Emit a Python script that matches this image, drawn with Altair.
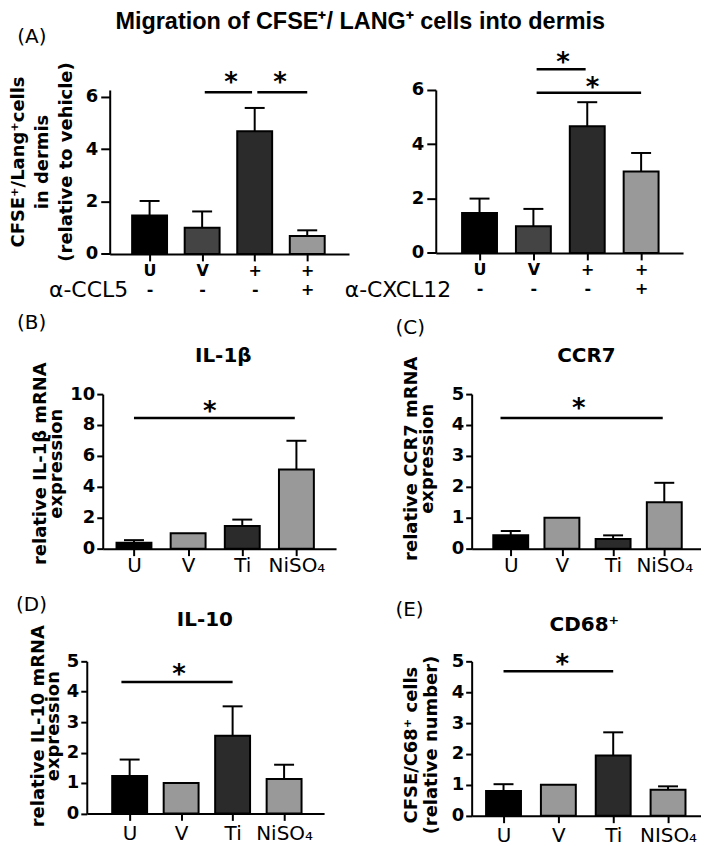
import json
import altair as alt
import pandas as pd

FONT = "DejaVu Sans"
TITLE_FONT = "Liberation Sans"

# ---------------- data ----------------
A_TICKS = [["U", "-"], ["V", "-"], ["+", "-"], ["+", "+"]]
MRNA_TICKS = ["U", "V", "Ti", "NiSO₄"]
CD68_TICKS = ["U", "V", "Ti", "NISO₄"]

A1_MEAN = [1.47, 1.00, 4.68, 0.68]
A1_ERR = [2.02, 1.62, 5.57, 0.90]
A2_MEAN = [1.47, 0.98, 4.66, 3.00]
A2_ERR = [2.00, 1.62, 5.55, 3.68]
B_MEAN = [0.38, 1.00, 1.47, 5.12]
B_ERR = [0.55, None, 1.88, 6.98]
C_MEAN = [0.43, 1.00, 0.31, 1.50]
C_ERR = [0.57, None, 0.43, 2.13]
D_MEAN = [1.23, 1.00, 2.55, 1.13]
D_ERR = [1.77, None, 3.52, 1.60]
E_MEAN = [0.80, 1.00, 1.95, 0.84]
E_ERR = [1.02, None, 2.70, 0.95]

# significance brackets (group positions / heights) and star positions
A1_SIG_FROM, A1_SIG_TO, A1_SIG_Y = [1.05, 2.05], [1.95, 3.0], [6.17, 6.17]
A1_STAR_X, A1_STAR_Y = [1.55, 2.48], [6.8, 6.8]
A2_SIG_FROM, A2_SIG_TO, A2_SIG_Y = [1.06, 1.06], [1.97, 3.0], [6.76, 5.9]
A2_STAR_X, A2_STAR_Y = [1.55, 2.1], [7.25, 6.33]
B_SIG_FROM, B_SIG_TO, B_SIG_Y = [0.0], [2.97], [8.45]
B_STAR_X, B_STAR_Y = [1.4], [9.27]
C_SIG_FROM, C_SIG_TO, C_SIG_Y = [-0.2], [2.97], [4.23]
C_STAR_X, C_STAR_Y = [1.33], [4.73]
D_SIG_FROM, D_SIG_TO, D_SIG_Y = [-0.16], [2.0], [4.32]
D_STAR_X, D_STAR_Y = [0.96], [4.79]
E_SIG_FROM, E_SIG_TO, E_SIG_Y = [0.0], [2.0], [4.68]
E_STAR_X, E_STAR_Y = [1.07], [5.11]

# texts: figure title, panel letters, panel titles
MAIN_TITLE = "Migration of CFSE⁺/ LANG⁺ cells into dermis"
PANEL_LETTERS = ["(A)", "(B)", "(C)", "(D)", "(E)"]
PANEL_TITLES = ["IL-1β", "CCR7", "IL-10", "CD68⁺"]

# ---------------- styles / annotation placement (in each panel's data units) ----------------
FILL_A = ["#000000", "#444444", "#2b2b2b", "#999999"]
FILL_M = ["#000000", "#999999", "#2b2b2b", "#999999"]
MAIN_TITLE_AT = (4.009, 8.589)
LETTER_AT = [(-2.518, 8.056), (-2.16, 14.24), (-2.252, 6.958), (-2.207, 6.656), (-1.97, 6.47)]
PTITLE_AT = [(1.649, 12.05), (1.479, 6.045), (1.462, 6.154), (1.473, 5.975)]


def y_axis(vals, title=None, tx=0, ty=0, lh=18, tick=8, pad=3):
    kw = dict(values=vals, format="d", tickSize=tick, tickWidth=2, tickColor="black",
              domainColor="black", domainWidth=2, labelFont=FONT, labelFontSize=18,
              labelFontWeight="bold", labelColor="black", labelPadding=pad,
              labelFlush=False, grid=False, title=title)
    if title is not None:
        kw.update(titleFont=FONT, titleFontSize=18, titleFontWeight="bold", titleColor="black",
                  titleX=tx, titleY=ty, titleLineHeight=lh, titleAlign="center",
                  titleBaseline="bottom", titleAngle=270)
    return alt.Axis(**kw)


def x_axis(ticks, size, weight, pad, lh=None, title=None, tx=0, ty=0):
    expr = json.dumps(ticks, ensure_ascii=False) + "[datum.value]"
    kw = dict(values=list(range(len(ticks))), labelExpr=expr, tickSize=7, tickWidth=2,
              tickColor="black", domainColor="black", domainWidth=2, labelFont=FONT,
              labelFontSize=size, labelFontWeight=weight, labelColor="black",
              labelPadding=pad, labelFlush=False, labelOverlap=False, labelAngle=0,
              grid=False, title=title)
    if lh:
        kw["labelLineHeight"] = lh
    if title is not None:
        kw.update(titleX=tx, titleY=ty, titleAlign="right", titleBaseline="middle",
                  titleFont=FONT, titleFontSize=22, titleFontWeight="normal", titleColor="black")
    return alt.Axis(**kw)


def panel(mean, err, fills, sig_from, sig_to, sig_y, star_x, star_y,
          x_dom, y_dom, w, h, xaxis, yaxis, texts):
    idx = list(range(len(mean)))
    bar_df = pd.DataFrame({"pos": idx, "val": mean, "fillc": fills})
    e_idx = [i for i in idx if err[i] is not None]
    err_df = pd.DataFrame({"pos": e_idx, "val": [mean[i] for i in e_idx],
                           "err": [err[i] for i in e_idx]})
    sig_df = pd.DataFrame({"pos": sig_from, "x2": sig_to, "val": sig_y})
    star_df = pd.DataFrame({"pos": star_x, "val": star_y})
    xs = alt.Scale(domain=x_dom, nice=False, zero=False)
    ys = alt.Scale(domain=y_dom, nice=False)

    def X(f="pos:Q"):
        return alt.X(f, scale=xs, axis=xaxis)

    def Y(f="val:Q"):
        return alt.Y(f, scale=ys, axis=yaxis)

    layers = [
        alt.Chart(bar_df).mark_bar(orient="vertical", size=35, stroke="black",
                                   strokeWidth=2).encode(
            x=X(), y=Y(), fill=alt.Fill("fillc:N", scale=None)),
        alt.Chart(err_df).mark_rule(color="black", strokeWidth=2).encode(
            x=X(), y=Y(), y2="err:Q"),
        alt.Chart(err_df).mark_tick(orient="horizontal", size=20, thickness=2,
                                    color="black", opacity=1).encode(x=X(), y=Y("err:Q")),
        alt.Chart(sig_df).mark_rule(color="black", strokeWidth=2.5).encode(
            x=X(), x2="x2:Q", y=Y()),
        alt.Chart(star_df).mark_text(text="*", font=FONT, fontSize=26, fontWeight="bold",
                                     baseline="alphabetic", dy=15, color="black").encode(
            x=X(), y=Y()),
    ]
    for (txt, pos, font, size, weight, align) in texts:
        tdf = pd.DataFrame({"pos": [pos[0]], "val": [pos[1]], "t": [txt]})
        layers.append(
            alt.Chart(tdf).mark_text(font=font, fontSize=size, fontWeight=weight, align=align,
                                     baseline="alphabetic", color="black").encode(
                x=X(), y=Y(), text="t:N"))
    return alt.layer(*layers).properties(width=w, height=h)


def letter(i):
    return (PANEL_LETTERS[i], LETTER_AT[i], FONT, 20, "normal", "left")


def ptitle(i):
    return (PANEL_TITLES[i], PTITLE_AT[i], FONT, 20, "bold", "center")


SP_DF = pd.DataFrame({"v": [0]})


def spacer(w, h):
    return alt.Chart(SP_DF).mark_point(opacity=0, size=1).encode(
        x=alt.X("v:Q", axis=None), y=alt.Y("v:Q", axis=None)).properties(width=w, height=h)


A1 = panel(A1_MEAN, A1_ERR, FILL_A, A1_SIG_FROM, A1_SIG_TO, A1_SIG_Y, A1_STAR_X, A1_STAR_Y,
           [-0.664, 3.70], [0, 6.256], 240, 164.4,
           x_axis(A_TICKS, 16, "bold", 2, lh=19, title="α-CCL5", tx=18, ty=36),
           y_axis([0, 2, 4, 6], ["CFSE⁺/Lang⁺cells", "in dermis", "(relative to vehicle)"],
                  tx=-82, ty=71.7, lh=24, tick=9, pad=3),
           [(MAIN_TITLE, MAIN_TITLE_AT, TITLE_FONT, 23.5, "bold", "center"), letter(0)])
A2 = panel(A2_MEAN, A2_ERR, FILL_A, A2_SIG_FROM, A2_SIG_TO, A2_SIG_Y, A2_STAR_X, A2_STAR_Y,
           [-0.72, 3.686], [0, 6], 248, 163.4,
           x_axis(A_TICKS, 16, "bold", 2, lh=19, title="α-CXCL12", tx=15, ty=37),
           y_axis([0, 2, 4, 6], None, tick=9, pad=3), [])
B = panel(B_MEAN, B_ERR, FILL_M, B_SIG_FROM, B_SIG_TO, B_SIG_Y, B_STAR_X, B_STAR_Y,
          [-0.485, 3.64], [0, 10], 234, 155,
          x_axis(MRNA_TICKS, 20, "normal", 0),
          y_axis([0, 2, 4, 6, 8, 10], ["relative IL-1β mRNA", "expression"],
                 tx=-53, ty=69.3, lh=16, tick=6, pad=2),
          [letter(1), ptitle(0)])
C = panel(C_MEAN, C_ERR, FILL_M, C_SIG_FROM, C_SIG_TO, C_SIG_Y, C_STAR_X, C_STAR_Y,
          [-0.666, 3.62], [0, 5], 230, 155,
          x_axis(MRNA_TICKS, 20, "normal", 0),
          y_axis([0, 1, 2, 3, 4, 5], ["relative CCR7 mRNA", "expression"],
                 tx=-51, ty=64.3, lh=16, tick=6, pad=2),
          [letter(2), ptitle(1)])
D = panel(D_MEAN, D_ERR, FILL_M, D_SIG_FROM, D_SIG_TO, D_SIG_Y, D_STAR_X, D_STAR_Y,
          [-0.736, 3.68], [0, 5], 238, 152.5,
          x_axis(MRNA_TICKS, 20, "normal", 3),
          y_axis([0, 1, 2, 3, 4, 5], ["relative IL-10 mRNA", "expression"],
                 tx=-39, ty=64.5, lh=15, tick=6, pad=2),
          [letter(3), ptitle(2)])
E = panel(E_MEAN, E_ERR, FILL_M, E_SIG_FROM, E_SIG_TO, E_SIG_Y, E_STAR_X, E_STAR_Y,
          [-0.49, 3.51], [0, 5], 230, 154.8,
          x_axis(CD68_TICKS, 20, "normal", 3),
          y_axis([0, 1, 2, 3, 4, 5], ["CFSE/C68⁺ cells", "(relative number)"],
                 tx=-51, ty=83.5, lh=20, tick=6, pad=2),
          [letter(4), ptitle(3)])

row_a = alt.hconcat(spacer(102, 222.7), A1, spacer(87, 1), A2, spacing=0, bounds="flush")
row_b = alt.hconcat(spacer(95, 200.3), B, spacer(136, 1), C, spacing=0, bounds="flush")
row_d = alt.hconcat(spacer(79, 1), D, spacer(148, 1), E, spacing=0, bounds="flush")

chart = alt.vconcat(row_a, row_b, row_d, spacing=0).properties(
    padding=0, background="white"
).configure_view(strokeWidth=0)

chart.save("out.html", embed_options={"renderer": "svg", "actions": False})
